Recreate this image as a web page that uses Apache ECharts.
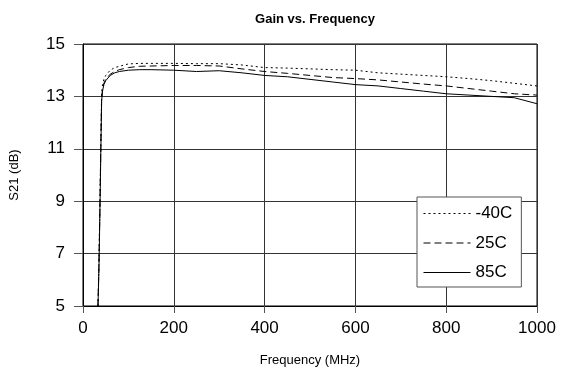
<!DOCTYPE html>
<html>
<head>
<meta charset="utf-8">
<script src="https://cdn.jsdelivr.net/npm/echarts@6/dist/echarts.min.js"></script>
<style>
html,body{margin:0;padding:0;background:#fff;}
#c{width:562px;height:384px;}
</style>
</head>
<body>
<div id="c"></div>
<script>
var freq = [33, 35, 37, 39, 41, 43, 46, 50, 60, 70, 80, 100, 125, 150, 200, 250, 300, 350, 400, 450, 500, 550, 600, 650, 700, 750, 800, 850, 900, 950, 1000];
var gainM40 = [5.0, 6.6, 8.6, 10.9, 13.1, 13.45, 13.65, 13.8, 14.0, 14.1, 14.15, 14.24, 14.26, 14.26, 14.26, 14.25, 14.25, 14.2, 14.1, 14.08, 14.05, 14.02, 14.0, 13.9, 13.85, 13.8, 13.75, 13.68, 13.6, 13.5, 13.4];
var gain25 = [5.0, 6.5, 8.5, 10.8, 12.9, 13.3, 13.5, 13.65, 13.85, 13.95, 14.02, 14.1, 14.15, 14.16, 14.18, 14.18, 14.16, 14.05, 13.95, 13.88, 13.8, 13.72, 13.68, 13.63, 13.55, 13.47, 13.4, 13.3, 13.2, 13.1, 13.05];
var gain85 = [5.0, 6.3, 8.3, 10.6, 12.8, 13.2, 13.45, 13.6, 13.8, 13.9, 13.95, 14.0, 14.02, 14.02, 14.0, 13.95, 13.98, 13.9, 13.8, 13.75, 13.65, 13.55, 13.45, 13.4, 13.3, 13.2, 13.1, 13.05, 13.0, 12.95, 12.72];
var seriesNames = ['-40C', '25C', '85C'];
var xTicks = [0, 200, 400, 600, 800, 1000];
var yTicks = [5, 7, 9, 11, 13, 15];

function pairs(vals){ return freq.map(function(f,i){ return [f, vals[i]]; }); }

var chart = echarts.init(document.getElementById('c'), null, {renderer:'canvas'});
var fontFam = 'Liberation Sans, Arial, sans-serif';
var lineStyles = [
  {color:'#000', width:1, type:[2,3]},
  {color:'#000', width:1, type:[7,4]},
  {color:'#000', width:1, type:'solid'}
];
var data = [gainM40, gain25, gain85];

chart.setOption({
  animation:false,
  backgroundColor:'#fff',
  title:{
    text:'Gain vs. Frequency',
    left:310, top:8, textAlign:'center',
    textStyle:{fontFamily:fontFam, fontSize:13, fontWeight:'bold', color:'#000'}
  },
  grid:{left:83, right:25, top:44, bottom:78, show:true, borderColor:'#000', borderWidth:1},
  legend:{
    show:true,
    left:417, top:197,
    orient:'vertical',
    align:'left',
    padding:[8,9,6,6],
    itemGap:12.5,
    itemWidth:47, itemHeight:14,
    backgroundColor:'#fff',
    borderColor:'#555', borderWidth:1,
    itemStyle:{opacity:0},
    lineStyle:{inherit:true, width:1},
    textStyle:{fontFamily:fontFam, fontSize:17, color:'#000'},
    data:seriesNames
  },
  xAxis:{
    type:'value', min:0, max:1000, interval:200,
    name:'Frequency (MHz)', nameLocation:'middle', nameGap:48,
    nameTextStyle:{fontFamily:fontFam, fontSize:13, color:'#000'},
    axisLine:{show:true, onZero:false, lineStyle:{color:'#000', width:1}},
    axisTick:{show:true, length:7, lineStyle:{color:'#555'}},
    axisLabel:{fontFamily:fontFam, fontSize:17, color:'#000', margin:14,
      formatter:function(v){ return xTicks.indexOf(v)>=0 ? String(v) : ''; }},
    splitLine:{show:true, lineStyle:{color:'#333', width:1}}
  },
  yAxis:{
    type:'value', min:5, max:15, interval:2,
    name:'S21 (dB)', nameLocation:'middle', nameGap:62, nameRotate:90,
    nameTextStyle:{fontFamily:fontFam, fontSize:13, color:'#000'},
    axisLine:{show:true, onZero:false, lineStyle:{color:'#000', width:1}},
    axisTick:{show:true, length:9, lineStyle:{color:'#555'}},
    axisLabel:{fontFamily:fontFam, fontSize:17, color:'#000', margin:18,
      formatter:function(v){ return yTicks.indexOf(v)>=0 ? String(v) : ''; }},
    splitLine:{show:true, lineStyle:{color:'#333', width:1}}
  },
  series: seriesNames.map(function(n,i){
    return {
      name:n, type:'line', data:pairs(data[i]),
      showSymbol:false, symbol:'none', smooth:false,
      lineStyle:lineStyles[i], itemStyle:{color:'#000'},
      emphasis:{disabled:true}, z:3-i
    };
  })
});
</script>
</body>
</html>
